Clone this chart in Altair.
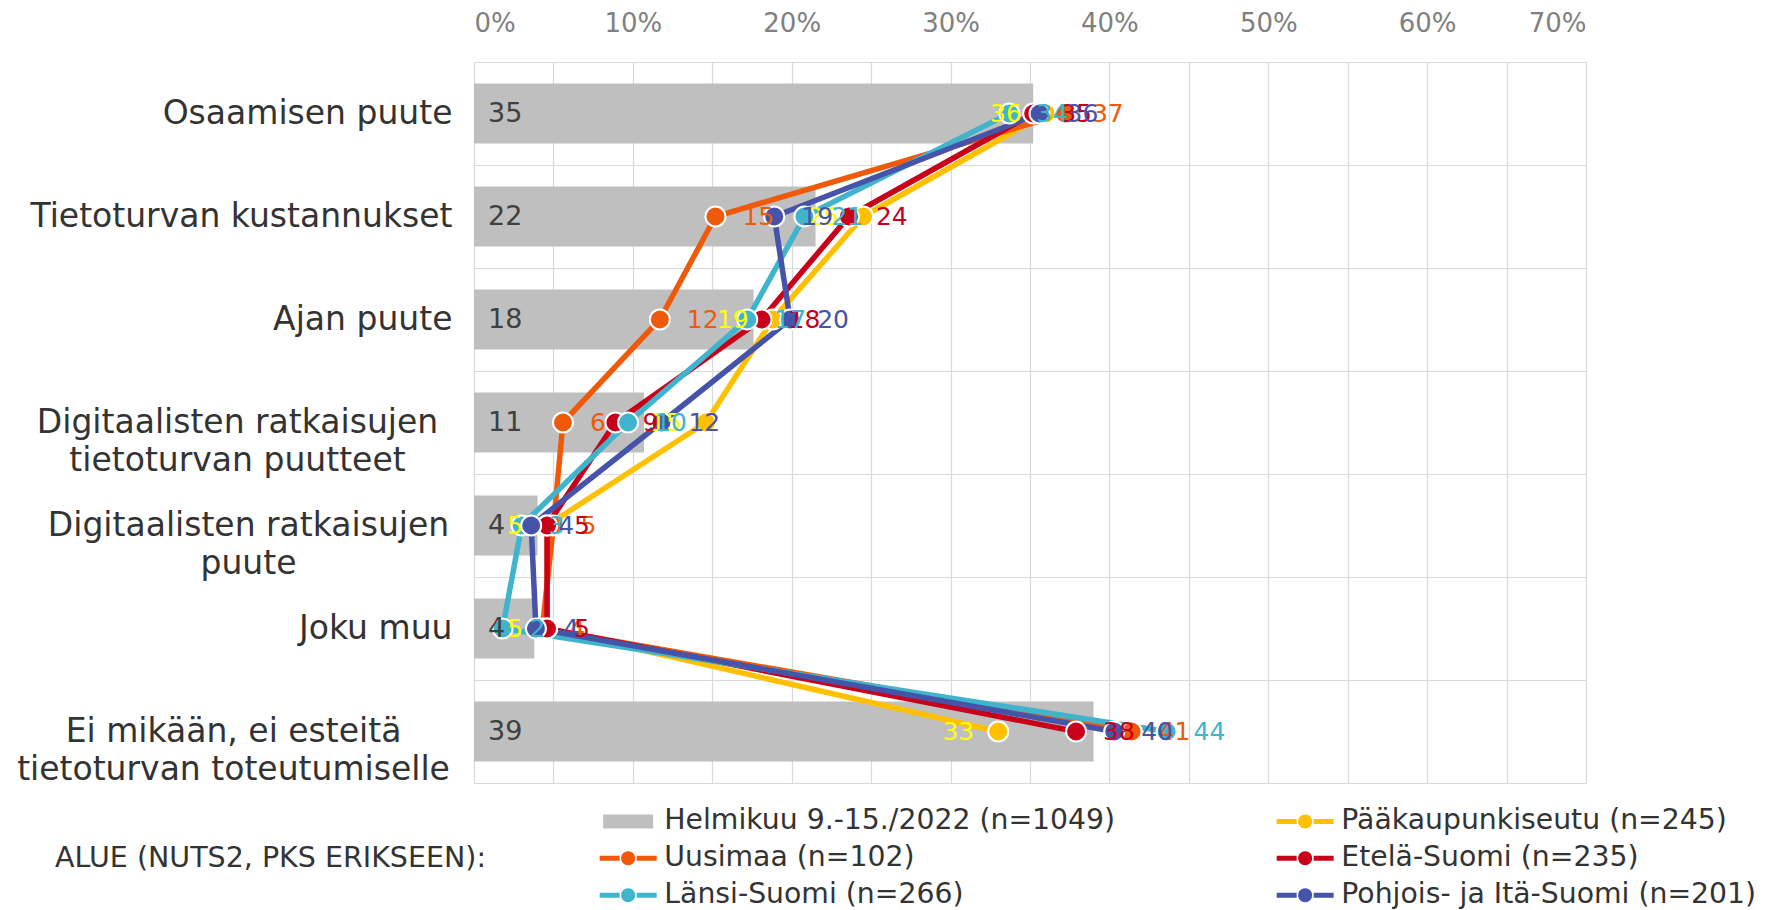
import altair as alt
import pandas as pd

# ---- data (percent) ----
categories = [
    "Osaamisen puute",
    "Tietoturvan kustannukset",
    "Ajan puute",
    "Digitaalisten ratkaisujen|tietoturvan puutteet",
    "Digitaalisten ratkaisujen|puute",
    "Joku muu",
    "Ei mikään, ei esteitä|tietoturvan toteutumiselle",
]
total_name = "Helmikuu 9.-15./2022 (n=1049)"
total = [35.2, 21.5, 17.6, 10.7, 4.0, 3.8, 39.0]

series_names = [
    "Pääkaupunkiseutu (n=245)",
    "Uusimaa (n=102)",
    "Etelä-Suomi (n=235)",
    "Länsi-Suomi (n=266)",
    "Pohjois- ja Itä-Suomi (n=201)",
]
pks = [36.0, 24.5, 18.8, 14.6, 4.6, 4.6, 33.0]
uusimaa = [37.2, 15.2, 11.7, 5.6, 5.0, 4.3, 41.4]
etela = [35.2, 23.6, 18.1, 8.9, 4.6, 4.6, 37.9]
lansi = [33.7, 20.8, 17.2, 9.7, 3.0, 1.8, 43.6]
pohjois = [35.6, 18.9, 19.9, 11.8, 3.6, 3.9, 40.3]
series_values = [pks, uusimaa, etela, lansi, pohjois]

line_colors = ["#FFC000", "#EF5A0A", "#C8001A", "#40B4CC", "#4553A8"]
label_colors = ["#FFFF00", "#EF5A0A", "#C8001A", "#40B4CC", "#4553A8"]
legend_title = "ALUE (NUTS2, PKS ERIKSEEN):"

df_tot = pd.DataFrame({"cat": categories, "value": total, "zero": [0] * len(total)})
rows = []
for s, vals in zip(series_names, series_values):
    for i, (c, v) in enumerate(zip(categories, vals)):
        rows.append({"series": s, "cat": c, "value": v, "idx": i})
df = pd.DataFrame(rows)

legend_domain = [total_name] + series_names
color_scale = alt.Scale(domain=legend_domain, range=["#BFBFBF"] + line_colors)

line_sym = ("M-2.85,-0.25H-0.85V0.25H-2.85Z M0.85,-0.25H2.85V0.25H0.85Z "
            "M0.7,0A0.7,0.7,0,1,1,-0.7,0A0.7,0.7,0,1,1,0.7,0Z")
rect_sym = "M-2.5,-0.7H2.5V0.7H-2.5Z"
shape_scale = alt.Scale(domain=legend_domain, range=[rect_sym] + [line_sym] * 5)

FONT = "DejaVu Sans"
PW, PH = 1112, 721

# multi-line labels: lines centred on each other, block right-aligned
centre_pad = {categories[3]: 237, categories[4]: 226, categories[6]: 241}
align_cond = {"condition": [{"test": f"datum.value == '{c}'", "value": "center"}
                            for c in centre_pad], "value": "right"}
pad_cond = {"condition": [{"test": f"datum.value == '{c}'", "value": p}
                          for c, p in centre_pad.items()], "value": 22}

x_axis = alt.Axis(orient="top", values=list(range(0, 75, 5)),
                  labelExpr="datum.value % 10 == 0 ? datum.value + '%' : ''",
                  grid=True, gridColor="#D9D9D9", gridWidth=1.2, ticks=False, domain=False,
                  labelFontSize=26, labelColor="#808080", labelPadding=26,
                  labelFont=FONT, title=None)
x_scale = alt.Scale(domain=[0, 70], nice=False, zero=True)
y_axis = alt.Axis(labelExpr="split(datum.label, '|')", tickBand="extent",
                  grid=True, gridColor="#D9D9D9", gridWidth=1.2, ticks=False, domain=False,
                  labelFontSize=33, labelColor="#333333", labelPadding=pad_cond,
                  labelAlign=align_cond,
                  labelLineHeight=38, labelLimit=0, labelFont=FONT, title=None)
y_scale = alt.Scale(paddingInner=0, paddingOuter=0)


def X(field):
    return alt.X(f"{field}:Q", scale=x_scale, axis=x_axis)


Y = alt.Y("cat:N", sort=categories, scale=y_scale, axis=y_axis)

bars = alt.Chart(df_tot).mark_bar(size=60, color="#BFBFBF").encode(x=X("value"), y=Y)
bar_labels = alt.Chart(df_tot).mark_text(
    align="left", baseline="middle", dx=14, fontSize=27, color="#404040", font=FONT
).encode(x=X("zero"), y=Y, text=alt.Text("value:Q", format=".0f"))

lines = alt.Chart(df).mark_line(strokeWidth=5.5).encode(
    x=X("value"), y=Y,
    color=alt.Color("series:N", scale=color_scale, legend=None),
    order=alt.Order("idx:Q"),
)
points = alt.Chart(df).mark_circle(size=400, opacity=1, stroke="white", strokeWidth=2).encode(
    x=X("value"), y=Y,
    color=alt.Color("series:N", scale=color_scale, legend=None),
)

label_layers = []
for s, col in zip(series_names, label_colors):
    left = s.startswith("Pääkaupunkiseutu")
    label_layers.append(
        alt.Chart(df).transform_filter(alt.datum.series == s).mark_text(
            align="right" if left else "left", baseline="middle",
            dx=-24 if left else 27, fontSize=25, color=col, font=FONT
        ).encode(x=X("value"), y=Y, text=alt.Text("value:Q", format=".0f"))
    )

leg = alt.Legend(
    orient="none", legendX=-419, legendY=745, columns=2, columnPadding=160,
    direction="horizontal",
    rowPadding=8, symbolSize=400, symbolStrokeWidth=0,
    labelFontSize=28.3, labelFont=FONT, labelColor="#333333", labelOffset=22, labelLimit=0,
    title=legend_title, titleOrient="left", titleAnchor="middle", titleBaseline="middle",
    titleFontSize=28.5, titleFontWeight="normal", titleColor="#333333", titleFont=FONT,
    titlePadding=127, titleLimit=0,
)
legend_layer = alt.Chart(df).transform_filter("false").mark_point(
    filled=True, opacity=1, strokeWidth=0
).encode(
    color=alt.Color("series:N", scale=color_scale, legend=leg),
    shape=alt.Shape("series:N", scale=shape_scale, legend=leg),
)

chart = alt.layer(bars, lines, points, bar_labels, *label_layers, legend_layer).resolve_scale(
    color="independent", shape="independent"
).properties(
    width=PW, height=PH,
    autosize=alt.AutoSizeParams(type="none"),
    padding={"left": 466, "top": 54, "right": 184, "bottom": 127},
).configure(font=FONT).configure_view(stroke=None)

chart.save("out.html", embed_options={"renderer": "svg", "actions": False})
